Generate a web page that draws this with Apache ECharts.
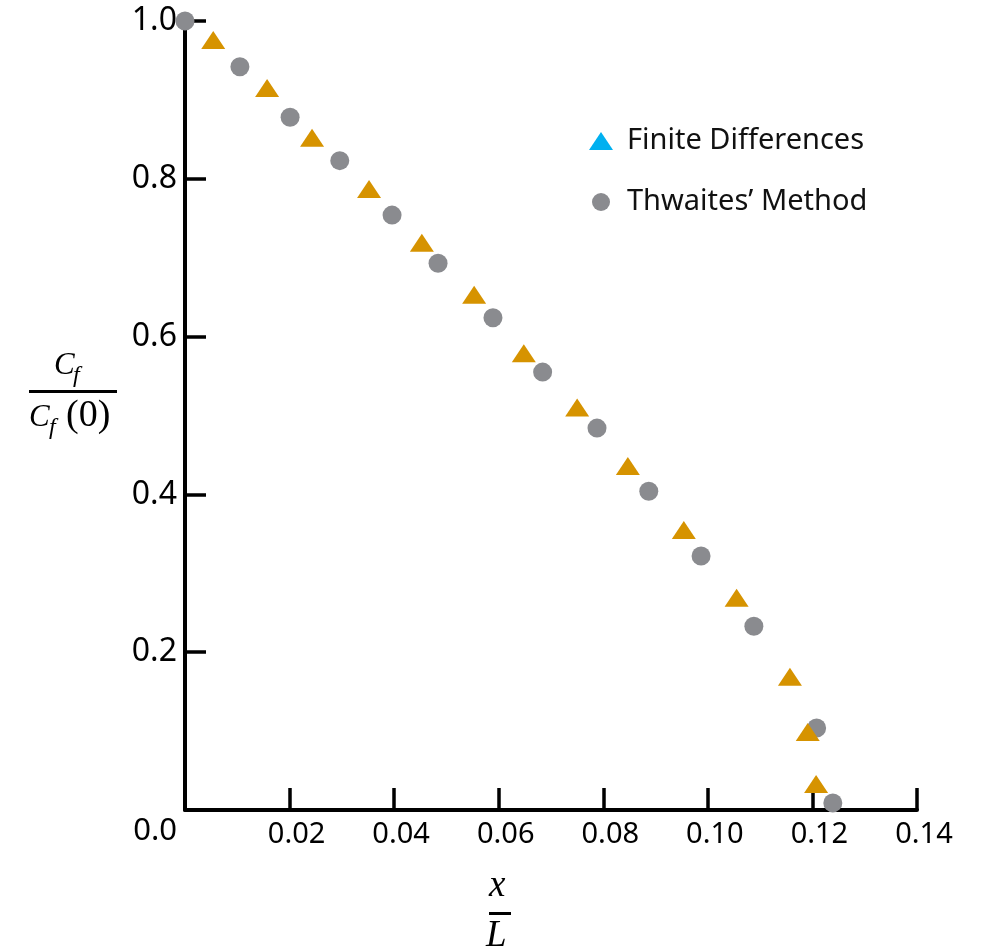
<!DOCTYPE html>
<html><head><meta charset="utf-8">
<script src="https://cdn.jsdelivr.net/npm/echarts@6/dist/echarts.min.js"></script>
<style>html,body{margin:0;padding:0;background:#fff}#c{width:982px;height:951px}</style>
</head><body><div id="c"></div>
<script>
// Finite Differences (triangles)
const fdX = [0.0054, 0.0157, 0.0243, 0.0352, 0.0453, 0.0553, 0.0648, 0.0750, 0.0847, 0.0954, 0.1055, 0.1157, 0.1191, 0.1207];
const fdY = [0.976, 0.915, 0.852, 0.787, 0.719, 0.653, 0.579, 0.510, 0.436, 0.355, 0.269, 0.169, 0.099, 0.033];
// Thwaites' Method (circles)
const twX = [0.0000, 0.0105, 0.0201, 0.0296, 0.0396, 0.0484, 0.0589, 0.0684, 0.0788, 0.0887, 0.0987, 0.1088, 0.1208, 0.1239];
const twY = [1.000, 0.942, 0.878, 0.823, 0.754, 0.693, 0.624, 0.555, 0.484, 0.404, 0.322, 0.233, 0.104, 0.009];
const seriesNames = ['Finite Differences', "Thwaites\u2019 Method"];

const pairs = (xs, ys) => xs.map((x, i) => [x, ys[i]]);
const tickFont = '"Noto Sans", sans-serif';
const serif = '"Liberation Serif", "DejaVu Serif", serif';

const chart = echarts.init(document.getElementById('c'), null, {renderer: 'canvas'});
chart.setOption({
  animation: false,
  backgroundColor: '#fff',
  grid: {left: 185, top: 21, right: 65, bottom: 141, containLabel: false},
  legend: {
    orient: 'vertical', left: 589, top: 126, padding: 0,
    itemWidth: 24, itemHeight: 18, itemGap: 31, itemTextGap: 14,
    textStyle: {fontFamily: tickFont, fontSize: 29, lineHeight: 30, color: '#111', padding: [0, 0, 0, 9]},
    data: [
      {name: seriesNames[0], icon: 'triangle', itemStyle: {color: '#00B0F0'}},
      {name: seriesNames[1], icon: 'circle', itemStyle: {color: '#8A8B8F'}}
    ]
  },
  xAxis: {
    type: 'value', min: 0, max: 0.14, interval: 0.02,
    axisLine: {lineStyle: {color: '#000', width: 4}},
    axisTick: {inside: true, length: 22, lineStyle: {color: '#000', width: 3.5}},
    splitLine: {show: false},
    axisLabel: {
      margin: 10, fontFamily: tickFont, fontSize: 29, color: '#000', padding: [0, 0, 0, 14],
      formatter: v => v === 0 ? '' : v.toFixed(2)
    }
  },
  yAxis: {
    type: 'value', min: 0, max: 1, interval: 0.2,
    axisLine: {lineStyle: {color: '#000', width: 4}},
    axisTick: {inside: true, length: 21, lineStyle: {color: '#000', width: 3.5}},
    splitLine: {show: false},
    axisLabel: {
      margin: 8, fontFamily: tickFont, fontSize: 32, color: '#000',
      formatter: v => v === 0 ? '{o|0.0}' : v.toFixed(1),
      rich: {o: {fontFamily: tickFont, fontSize: 31, color: '#000', padding: [42, 0, 0, 0]}}
    }
  },
  series: [
    {
      name: seriesNames[0], type: 'scatter', z: 3,
      symbol: 'triangle', symbolSize: [24, 18],
      itemStyle: {color: '#D69300', opacity: 1},
      data: pairs(fdX, fdY)
    },
    {
      name: seriesNames[1], type: 'scatter', z: 2,
      symbol: 'circle', symbolSize: 19,
      itemStyle: {color: '#8A8B8F', opacity: 1},
      data: pairs(twX, twY)
    }
  ],
  graphic: [
    // y-axis title: C_f / C_f(0)
    {type: 'text', left: 54, top: 350, style: {text: 'C', font: 'italic 31px ' + serif, fill: '#000'}},
    {type: 'text', left: 73, top: 364, style: {text: 'f', font: 'italic 24px ' + serif, fill: '#000'}},
    {type: 'rect', shape: {x: 29, y: 390, width: 88, height: 3}, style: {fill: '#000'}},
    {type: 'text', left: 29, top: 402, style: {text: 'C', font: 'italic 31px ' + serif, fill: '#000'}},
    {type: 'text', left: 49, top: 416, style: {text: 'f', font: 'italic 24px ' + serif, fill: '#000'}},
    {type: 'text', left: 66, top: 397, style: {text: '(0)', font: '38px ' + serif, fill: '#000'}},
    // x-axis title: x / L
    {type: 'text', left: 489, top: 868, style: {text: 'x', font: 'italic 37px ' + serif, fill: '#000'}},
    {type: 'rect', shape: {x: 489, y: 912, width: 22, height: 3}, style: {fill: '#000'}},
    {type: 'text', left: 486, top: 918, style: {text: 'L', font: 'italic 37px ' + serif, fill: '#000'}}
  ]
});
</script>
</body></html>
